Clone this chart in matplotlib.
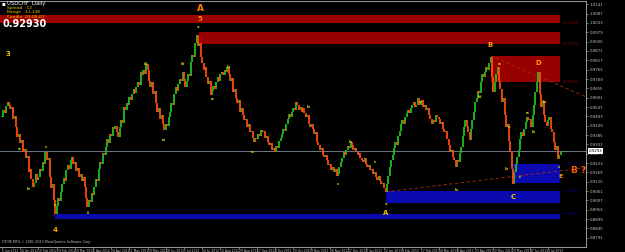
import matplotlib
matplotlib.use('Agg')
import matplotlib.pyplot as plt
from matplotlib.patches import Rectangle
import matplotlib.transforms as mtransforms
import numpy as np
import pandas as pd

# daily closes, in pips (price * 10000)
closes = [
    9491, 9530, 9510, 9555, 9577, 9560, 9535, 9545, 9480, 9495,
    9430, 9375, 9390, 9340, 9355, 9290, 9305, 9250, 9265, 9173,
    9190, 9130, 9086, 9110, 9160, 9125, 9144, 9190, 9175, 9230,
    9215, 9288, 9240, 9255, 9144, 9080, 9100, 9010, 8930, 8975,
    9020, 9005, 9057, 9100, 9135, 9120, 9184, 9210, 9190, 9240,
    9259, 9220, 9230, 9180, 9195, 9144, 9160, 9120, 9140, 9086,
    9020, 8970, 9010, 9000, 9050, 9040, 9086, 9130, 9120, 9190,
    9231, 9215, 9280, 9270, 9317, 9360, 9340, 9390, 9380, 9433,
    9420, 9440, 9400, 9375, 9430, 9470, 9455, 9548, 9530, 9570,
    9560, 9606, 9590, 9620, 9650, 9630, 9664, 9690, 9675, 9751,
    9730, 9760, 9740, 9797, 9760, 9700, 9664, 9690, 9620, 9640,
    9570, 9520, 9540, 9480, 9500, 9450, 9416, 9450, 9440, 9490,
    9520, 9570, 9560, 9620, 9664, 9640, 9680, 9710, 9700, 9751,
    9710, 9664, 9700, 9740, 9725, 9809, 9850, 9835, 9920, 9965,
    9900, 9920, 9837, 9800, 9760, 9780, 9722, 9680, 9700, 9618,
    9640, 9670, 9650, 9693, 9720, 9700, 9740, 9751, 9730, 9760,
    9750, 9780, 9740, 9700, 9715, 9635, 9650, 9600, 9570, 9590,
    9520, 9540, 9500, 9470, 9480, 9433, 9450, 9400, 9410, 9370,
    9346, 9370, 9360, 9390, 9380, 9416, 9400, 9410, 9370, 9380,
    9346, 9330, 9340, 9300, 9310, 9288, 9320, 9310, 9350, 9370,
    9392, 9420, 9410, 9450, 9480, 9508, 9490, 9520, 9540, 9530,
    9577, 9560, 9530, 9550, 9520, 9543, 9510, 9490, 9500, 9450,
    9433, 9450, 9420, 9390, 9400, 9346, 9330, 9300, 9310, 9270,
    9259, 9270, 9240, 9210, 9220, 9184, 9200, 9170, 9190, 9150,
    9161, 9200, 9230, 9250, 9288, 9270, 9300, 9320, 9310, 9346,
    9330, 9300, 9310, 9288, 9270, 9280, 9250, 9240, 9231, 9250,
    9220, 9200, 9210, 9184, 9190, 9160, 9170, 9140, 9127, 9150,
    9120, 9100, 9110, 9080, 9057, 9100, 9150, 9202, 9240, 9270,
    9310, 9346, 9330, 9380, 9410, 9450, 9473, 9450, 9490, 9510,
    9531, 9510, 9540, 9560, 9577, 9550, 9560, 9600, 9560, 9577,
    9590, 9550, 9560, 9531, 9540, 9500, 9480, 9450, 9470, 9460,
    9500, 9491, 9480, 9450, 9460, 9420, 9404, 9410, 9360, 9330,
    9288, 9300, 9260, 9240, 9202, 9240, 9230, 9280, 9317, 9380,
    9430, 9473, 9440, 9400, 9358, 9420, 9470, 9520, 9577, 9600,
    9640, 9630, 9690, 9739, 9720, 9750, 9780, 9760, 9800, 9837,
    9720, 9635, 9690, 9740, 9780, 9700, 9650, 9577, 9600, 9500,
    9433, 9450, 9350, 9288, 9190, 9103, 9170, 9220, 9259, 9300,
    9360, 9404, 9380, 9420, 9460, 9491, 9470, 9480, 9433, 9500,
    9560, 9635, 9690, 9751, 9620, 9549, 9580, 9500, 9462, 9440,
    9470, 9491, 9420, 9400, 9346, 9300, 9320, 9248, 9270, 9293,
]

# zones: (first bar, low, high) in pips
red_zones = [(-2, 10034, 10080), (141, 9913, 9982), (349, 9693, 9843)]
blue_zones = [(365, 9109, 9219), (274, 8994, 9063), (38, 8901, 8930)]
zone_end = 398.6

# trend lines: (bar, pips) pairs
upper_line = [(349, 9843), (417, 9606)]
lower_line = [(274, 9057), (417, 9196)]

# wave labels: (bar, pips, text, colour, size)
waves = [
    (141.5, 10115, 'A', '#FF7A00', 6.5),
    (141.0, 10057, '5', '#FF8C00', 5),
    (4.3, 9855, '3', '#E8C800', 5),
    (37.9, 8838, '4', '#FFA000', 5),
    (274.3, 8935, 'A', '#E8C800', 5),
    (348.6, 9907, 'B', '#FFA000', 5),
    (383.0, 9803, 'D', '#FFA000', 5),
    (365.0, 9028, 'C', '#E8C800', 5),
    (398.6, 9144, 'E', '#FFA000', 4.5),
]

# minor degree labels: (bar, pips, text)
minor = [
    (12.0, 9305, 'a'), (18.6, 9074, 'b'), (31.4, 9317, 'c'),
    (37.9, 8983, 'v'), (61.4, 8936, 'ii'), (102.9, 9797, 'iii'),
    (115.7, 9358, 'iv'), (129.3, 9797, 'iii'), (140.0, 10011, 'v'),
    (150.0, 9595, 'a'), (161.4, 9780, 'b'), (178.6, 9288, 'a'),
    (218.6, 9548, 'b'), (240.0, 9102, 'c'), (248.6, 9346, 'b'),
    (266.4, 9231, 'c'), (274.3, 8988, 'v'), (298.6, 9577, 'a'),
    (324.0, 9067, 'b'), (341.4, 9606, 'iii'), (355.0, 9797, 'a'),
    (360.0, 9190, 'b'), (362.1, 9433, 'c'), (370.0, 9144, 'c'),
    (375.0, 9513, 'a'), (379.3, 9404, 'b'), (387.1, 9578, 'b'),
    (397.9, 9202, 'c'),
]

close = np.array(closes) / 10000.0
opens = np.r_[close[0], close[:-1]]
bars = np.arange(len(close))
up = close >= opens

fig = plt.figure(figsize=(6.25, 2.52), dpi=100, facecolor='black')
ax = fig.add_axes([0, 5 / 252, 586 / 625, 246 / 252])
ax.set_facecolor('black')
ax.set_xlim(-1.43, 417.1)
ax.set_ylim(0.8738, 1.0160)

for b0, lo, hi in red_zones:
    ax.add_patch(Rectangle((b0, lo / 1e4), zone_end - b0, (hi - lo) / 1e4,
                           facecolor='#990000', edgecolor='none', zorder=1))
    ax.text(zone_end + 1.5, lo / 1e4, '(%.4f)' % (lo / 1e4), color='#7A0000',
            fontsize=2.8, va='center', ha='left', zorder=5)
for b0, lo, hi in blue_zones:
    ax.add_patch(Rectangle((b0, lo / 1e4), zone_end - b0, (hi - lo) / 1e4,
                           facecolor='#0A0AB0', edgecolor='none', zorder=1))
    ax.text(zone_end + 1.5, hi / 1e4, '(%.4f)' % (hi / 1e4), color='#00007A',
            fontsize=2.8, va='center', ha='left', zorder=5)

# current price line
ax.axhline(close[-1], color='#6C7A89', lw=0.7, zorder=2)

for line in (upper_line, lower_line):
    xs = [p[0] for p in line]
    ys = [p[1] / 1e4 for p in line]
    ax.plot(xs, ys, color='#A8300C', lw=0.6, ls=(0, (4, 3)), zorder=3)

lo = np.minimum(opens, close)
hi = np.maximum(opens, close)
hi = np.where(hi - lo < 0.0004, lo + 0.0004, hi)
ax.vlines(bars[up], lo[up], hi[up], colors='#1FBF1F', lw=1.3, zorder=4)
ax.vlines(bars[~up], lo[~up], hi[~up], colors='#FF4A10', lw=1.3, zorder=4)

for b, p, t, c, s in waves:
    ax.text(b, p / 1e4, t, color=c, fontsize=s, fontweight='bold',
            ha='center', va='center', zorder=6)
for b, p, t in minor:
    ax.text(b, p / 1e4, t, color='#E8E000', fontsize=3, fontweight='bold',
            ha='center', va='center', zorder=6)

ax.text(412, 0.9180, 'B ?', color='#FF5A00', fontsize=6.5, fontweight='bold',
        ha='center', va='center', zorder=6)

# axes look
ax.spines['left'].set_visible(False)
for s in ('right', 'top', 'bottom'):
    ax.spines[s].set_color('#9A9A9A')
    ax.spines[s].set_linewidth(0.7)

ax.yaxis.tick_right()
yt = np.arange(1.0141, 0.8750, -0.0054)
ax.set_yticks(yt)
ax.set_yticklabels(['%.4f' % v for v in yt])
ax.tick_params(axis='y', labelsize=2.8, colors='#C8C8C8', length=1.5,
               width=0.4, pad=1.0)

dates = pd.bdate_range('2012-01-05', periods=len(close))
xt = np.arange(0, len(close), 13)
ax.set_xticks(xt)
ax.set_xticklabels([f"{d.day} {d.strftime('%b %Y')}" for d in dates[xt]])
ax.tick_params(axis='x', labelsize=2.2, colors='#C8C8C8', length=1.2,
               width=0.4, pad=0.5)
for lbl in ax.get_xticklabels():
    lbl.set_ha('left')

tr = mtransforms.blended_transform_factory(ax.transAxes, ax.transData)
ax.text(1.004, close[-1], '%.4f' % close[-1], transform=tr, fontsize=2.8,
        color='black', va='center', ha='left', zorder=7,
        bbox=dict(facecolor='white', edgecolor='none', pad=0.6))

ax.text(0.004, 0.012, 'FXCM-MT4 \u00a9 2001-2013 MetaQuotes Software Corp.',
        transform=ax.transAxes, fontsize=2.4, color='#C0C0C0', va='bottom')

# info block top-left
fig.text(2 / 625, 1 - 4 / 252, '\u25aa', color='white', fontsize=4, va='center')
fig.text(7 / 625, 1 - 4 / 252, 'USDCHF  Daily', color='white', fontsize=3.8,
         va='center')
fig.text(7 / 625, 1 - 8.3 / 252, 'Spread   12', color='#E8D000', fontsize=3.2,
         va='center')
fig.text(7 / 625, 1 - 12.3 / 252, 'Range   11.136', color='#E8D000',
         fontsize=3.2, va='center')
fig.text(7 / 625, 1 - 16.5 / 252, 'Candle  03:05:07', color='#E8D000',
         fontsize=3.2, va='center')
fig.text(3 / 625, 1 - 24 / 252, '0.92930', color='white', fontsize=7,
         fontweight='bold', va='center')

fig.savefig('out.png', dpi=100, facecolor='black')
